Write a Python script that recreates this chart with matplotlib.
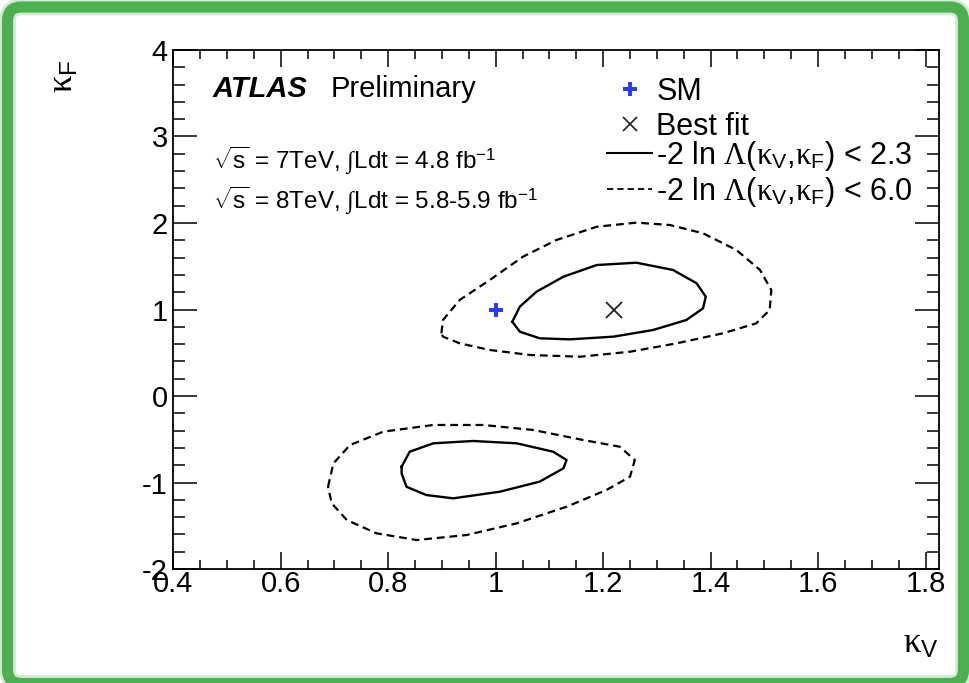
'''kappa_V vs kappa_F likelihood contours, ATLAS style'''
import numpy as np
import matplotlib
matplotlib.use('Agg')
from matplotlib import pyplot as pl, rcParams, patches, transforms
from matplotlib.lines import Line2D

# 68% (2.3) and 95% (6.0) contours, two minima
up_in_kv = [1.031, 1.045, 1.076, 1.126, 1.188, 1.262, 1.330, 1.374, 1.391, 1.386, 1.355, 1.293, 1.219, 1.138, 1.082, 1.045]
up_in_kf = [0.859, 1.033, 1.206, 1.379, 1.514, 1.541, 1.457, 1.303, 1.148, 1.014, 0.879, 0.763, 0.686, 0.655, 0.667, 0.743]
up_out_kv = [0.899, 0.902, 0.933, 0.989, 1.051, 1.113, 1.188, 1.262, 1.324, 1.386, 1.448, 1.492, 1.513, 1.510, 1.485, 1.423,
             1.337, 1.250, 1.157, 1.064, 0.989, 0.933, 0.902]
up_out_kf = [0.725, 0.879, 1.110, 1.341, 1.611, 1.803, 1.957, 2.004, 1.977, 1.881, 1.688, 1.457, 1.225, 0.994, 0.840, 0.725,
             0.609, 0.512, 0.454, 0.474, 0.532, 0.609, 0.686]
lo_in_kv = [0.825, 0.840, 0.884, 0.958, 1.039, 1.107, 1.132, 1.126, 1.082, 1.008, 0.921, 0.871, 0.834, 0.825]
lo_in_kf = [-0.817, -0.644, -0.547, -0.520, -0.547, -0.644, -0.740, -0.836, -0.990, -1.106, -1.183, -1.145, -1.049, -0.895]
lo_out_kv = [0.688, 0.698, 0.729, 0.791, 0.884, 0.977, 1.070, 1.163, 1.231, 1.259, 1.250, 1.206, 1.132, 1.039, 0.946, 0.853,
             0.778, 0.723, 0.695]
lo_out_kf = [-1.049, -0.779, -0.566, -0.412, -0.335, -0.335, -0.393, -0.509, -0.586, -0.740, -0.933, -1.087, -1.280, -1.472,
             -1.607, -1.665, -1.587, -1.434, -1.241]
sm = (1.0, 1.0)
best_fit = (1.22, 1.0)

xticks = [0.4, 0.6, 0.8, 1.0, 1.2, 1.4, 1.6, 1.8]
xtick_labels = ['0.4', '0.6', '0.8', '1', '1.2', '1.4', '1.6', '1.8']
yticks = [-2, -1, 0, 1, 2, 3, 4]
ytick_labels = ['-2', '-1', '0', '1', '2', '3', '4']
point_labels = ['SM', 'Best fit']
contour_labels = [r'-2 ln $\mathrm{\Lambda}$($\mathrm{\kappa}_{\mathsf{V}}$,$\mathrm{\kappa}_{\mathsf{F}}$) < 2.3',
                  r'-2 ln $\mathrm{\Lambda}$($\mathrm{\kappa}_{\mathsf{V}}$,$\mathrm{\kappa}_{\mathsf{F}}$) < 6.0']

rcParams.update({'font.family': 'Liberation Sans', 'axes.unicode_minus': False,
                 'mathtext.fontset': 'custom', 'mathtext.rm': 'Liberation Serif',
                 'mathtext.it': 'Liberation Serif:italic', 'mathtext.sf': 'Liberation Sans',
                 'mathtext.bf': 'Liberation Serif:bold'})

def closed(a):
    return np.append(a, a[0])

fig = pl.figure(figsize=(9.69, 6.83), dpi=100)
ax = fig.add_axes([0.1788, 0.1669, 0.7902, 0.7599])
dash = (0, (3.5, 2.2))
ax.plot(closed(up_in_kv), closed(up_in_kf), color='k', lw=1.7)
ax.plot(closed(lo_in_kv), closed(lo_in_kf), color='k', lw=1.7)
ax.plot(closed(up_out_kv), closed(up_out_kf), color='k', lw=1.6, ls=dash)
ax.plot(closed(lo_out_kv), closed(lo_out_kf), color='k', lw=1.6, ls=dash)
ax.plot(*sm, marker='P', color='#2a3cff', ms=10, mew=0, ls='none')
ax.plot(*best_fit, marker='x', color='#222222', ms=11, mew=1.3, ls='none')

ax.set_xlim(0.4, 1.825)
ax.set_ylim(-2, 4)
ax.set_xticks(xticks, xtick_labels)
ax.set_yticks(yticks, ytick_labels)
ax.set_xticks(np.arange(0.4, 1.826, 0.05), minor=True)
ax.set_yticks(np.arange(-2, 4.01, 0.2), minor=True)
ax.tick_params(which='both', direction='in', top=True, right=True, labelsize=21, width=1.1, color='k')
ax.tick_params(axis='x', which='major', length=12.2, pad=1)
ax.tick_params(axis='x', which='minor', length=6.5)
ax.tick_params(axis='y', which='major', length=17, pad=4)
ax.tick_params(axis='y', which='minor', length=8.6)
for s in ax.spines.values(): s.set_linewidth(1.3)

ax.set_xlabel(r'$\mathrm{\kappa}_{\mathsf{V}}$', fontsize=25, loc='right')
ax.xaxis.set_label_coords(1.0, -0.112)
ax.set_ylabel(r'$\mathrm{\kappa}_{\mathsf{F}}$', fontsize=25, loc='top')
ax.yaxis.set_label_coords(-0.122, 0.983)

ax.text(0.052, 0.909, 'ATLAS', transform=ax.transAxes, fontsize=21, weight='bold', style='italic', va='baseline')
ax.text(0.206, 0.909, 'Preliminary', transform=ax.transAxes, fontsize=21, va='baseline')
ax.text(0.052, 0.773, r'$\sqrt{\mathsf{s}}$ = 7TeV, $\int$Ldt = 4.8 fb$^{\mathsf{-1}}$', transform=ax.transAxes,
        fontsize=17.5, va='baseline')
ax.text(0.052, 0.696, r'$\sqrt{\mathsf{s}}$ = 8TeV, $\int$Ldt = 5.8-5.9 fb$^{\mathsf{-1}}$', transform=ax.transAxes,
        fontsize=17.5, va='baseline')

leg_kw = dict(loc='upper left', frameon=False, fontsize=22, handlelength=1.5, handletextpad=0.12,
              borderpad=0, borderaxespad=0)
point_handles = [Line2D([], [], marker='P', color='#2a3cff', ms=10, mew=0, ls='none'),
                 Line2D([], [], marker='x', color='#222222', ms=10, mew=1.2, ls='none')]
leg1 = ax.legend(point_handles, point_labels, bbox_to_anchor=(0.566, 0.948), labelspacing=0.16, **leg_kw)
ax.add_artist(leg1)
contour_handles = [Line2D([], [], color='k', lw=1.5), Line2D([], [], color='k', lw=1.3, ls=dash)]
ax.legend(contour_handles, contour_labels, bbox_to_anchor=(0.566, 0.8285), labelspacing=0.05, **leg_kw)

# green rounded frame around the whole figure, in pixels
px = transforms.IdentityTransform()
for lw, a in ((12, 0.25), (8, 1.0)):
    fig.add_artist(patches.FancyBboxPatch((7.5, -0.5), 956, 676.5, boxstyle='round,pad=0,rounding_size=14',
                                          transform=px, fill=False, ec='#4caf50', lw=lw, alpha=a))

pl.savefig('out.png', dpi=100)
